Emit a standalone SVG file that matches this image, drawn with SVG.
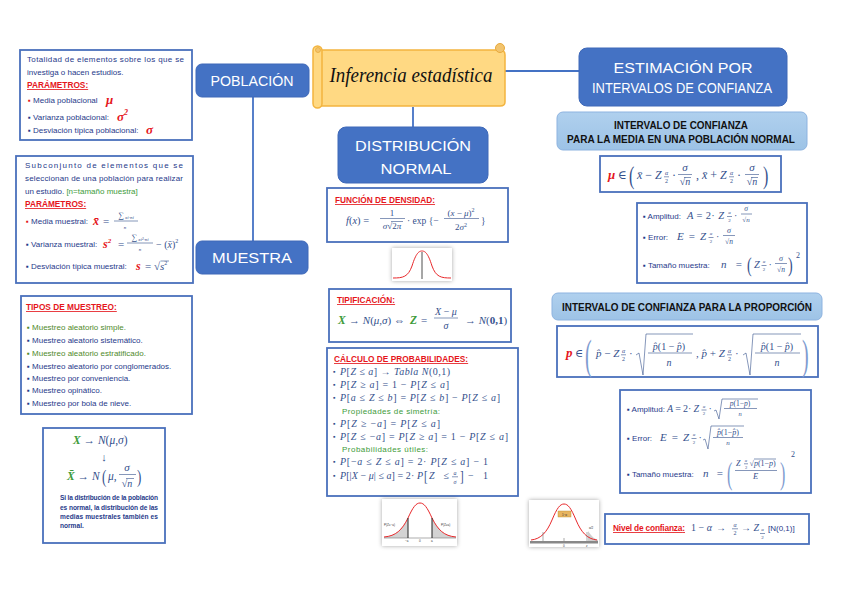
<svg xmlns="http://www.w3.org/2000/svg" width="848" height="599" viewBox="0 0 848 599">
<defs>
<style>
.box{fill:#fff;stroke:#4A70BC;stroke-width:1.8}
.hb{fill:#4472C4;stroke:#3E68B8;stroke-width:1}
.ht{font-family:"Liberation Sans",Arial,sans-serif;fill:#fff;font-size:14px;text-anchor:middle}
.lb{fill:url(#lbg);stroke:#8DB3E0;stroke-width:1}
.lt{font-family:"Liberation Sans",Arial,sans-serif;font-weight:bold;fill:#111;font-size:10px;text-anchor:middle}
.tx{font-family:"Liberation Sans",Arial,sans-serif;font-size:8px;fill:#1F3A8A}
.rd{font-family:"Liberation Sans",Arial,sans-serif;font-size:8.3px;fill:#E5161C;font-weight:bold;text-decoration:underline}
.gr{fill:#3E9B3A}
.gn{fill:#4F8A2B}
.rb{fill:#E5161C}
.m{font-family:"Liberation Serif","DejaVu Serif",serif;font-style:italic;fill:#34508C}
.mu{font-style:normal}
.mr{font-family:"Liberation Serif","DejaVu Serif",serif;font-style:italic;font-weight:bold;fill:#E5161C}
.mg{font-family:"Liberation Serif","DejaVu Serif",serif;font-style:italic;font-weight:bold;fill:#3E9B3A}
.mc{text-anchor:middle}
.ln{stroke:#34508C;stroke-width:0.6;fill:none}
.con{stroke:#4472C4;stroke-width:1.8;fill:none}
.cur{fill:none;stroke:#E8282B;stroke-width:1}
.tiny{font-family:"Liberation Sans",Arial,sans-serif;font-size:3px;fill:#333}
</style>
<linearGradient id="lbg" x1="0" y1="0" x2="0" y2="1"><stop offset="0" stop-color="#B0D0EE"/><stop offset="1" stop-color="#9DC3E6"/></linearGradient>
<filter id="sh" x="-30%" y="-30%" width="160%" height="160%"><feDropShadow dx="0" dy="0" stdDeviation="2.2" flood-color="#000" flood-opacity="0.35"/></filter>
</defs>
<rect width="848" height="599" fill="#fff"/>

<g id="connectors">
<line class="con" x1="253" y1="97" x2="253" y2="241"/>
<line class="con" x1="413" y1="107" x2="413" y2="127"/>
<line class="con" x1="505" y1="71" x2="579" y2="71"/>
</g>

<g id="poblacion-def">
<rect class="box" x="20" y="50" width="172" height="90"/>
<text class="tx" x="27" y="62" textLength="157" lengthAdjust="spacing">Totalidad de elementos sobre los que se</text>
<text class="tx" x="27" y="75">investiga o hacen estudios.</text>
<text class="rd" x="27" y="88">PARÁMETROS:</text>
<text class="tx" x="28" y="103"><tspan class="rb">▪</tspan> Media poblacional</text>
<text class="mr" x="106" y="104" font-size="13">μ</text>
<text class="tx" x="28" y="120">▪ Varianza poblacional:</text>
<text class="mr" x="117" y="121" font-size="13">σ<tspan font-size="8" dy="-6">2</tspan></text>
<text class="tx" x="28" y="133">▪ Desviación típica poblacional:</text>
<text class="mr" x="146" y="134" font-size="13">σ</text>
</g>

<g id="muestra-def">
<rect class="box" x="16" y="156" width="177" height="127"/>
<text class="tx" x="25" y="168" textLength="158" lengthAdjust="spacing">Subconjunto de elementos que se</text>
<text class="tx" x="25" y="181" textLength="158" lengthAdjust="spacing">seleccionan de una población para realizar</text>
<text class="tx" x="25" y="194">un estudio. <tspan class="gr">[n=tamaño muestra]</tspan></text>
<text class="rd" x="25" y="207">PARÁMETROS:</text>
<text class="tx" x="26" y="224"><tspan class="rb">▪</tspan> Media muestral:</text>
<text class="mr" x="93" y="225" font-size="12">x̄</text>
<text class="m" x="103" y="225" font-size="11"><tspan class="mu">=</tspan></text>
<text class="m mc" font-size="8"><tspan x="126" y="218"><tspan class="mu">∑</tspan><tspan font-size="5" dy="1"> xi·ni</tspan></tspan><tspan x="125" y="229" font-size="5">n</tspan></text>
<line class="ln" x1="114" y1="221" x2="138" y2="221" stroke-width="0.4"/>
<text class="tx" x="26" y="247">▪ Varianza muestral:</text>
<text class="mr" x="103" y="248" font-size="12">s<tspan font-size="7" dy="-5">2</tspan></text>
<text class="m" x="118" y="248" font-size="11"><tspan class="mu">=</tspan></text>
<text class="m mc" font-size="8"><tspan x="140" y="240"><tspan class="mu">∑</tspan><tspan font-size="5" dy="1"> xi²·ni</tspan></tspan><tspan x="140" y="251" font-size="5">n</tspan></text>
<line class="ln" x1="127" y1="243" x2="153" y2="243" stroke-width="0.4"/>
<text class="m" x="156" y="248" font-size="10"><tspan class="mu">− (</tspan>x̄<tspan class="mu">)</tspan><tspan font-size="6" dy="-5" class="mu">2</tspan></text>
<text class="tx" x="26" y="269">▪  Desviación típica muestral:</text>
<text class="mr" x="136" y="270" font-size="12">s</text>
<text class="m" x="145" y="270" font-size="11"><tspan class="mu">=</tspan> <tspan class="mu">√</tspan>s<tspan font-size="6" dy="-5" class="mu">2</tspan></text>
<line class="ln" x1="160.5" y1="261" x2="169" y2="261"/>
</g>

<g id="tipos-muestreo">
<rect class="box" x="21" y="296" width="171" height="118"/>
<text class="rd" x="26" y="310">TIPOS DE MUESTREO:</text>
<text class="tx gn" x="27" y="330">▪  Muestreo aleatorio simple.</text>
<text class="tx" x="27" y="343">▪ Muestreo aleatorio sistemático.</text>
<text class="tx gn" x="27" y="356">▪  Muestreo aleatorio estratificado.</text>
<text class="tx" x="27" y="369">▪ Muestreo aleatorio por conglomerados.</text>
<text class="tx" x="27" y="381">▪ Muestreo por conveniencia.</text>
<text class="tx" x="27" y="393">▪ Muestreo opinático.</text>
<text class="tx" x="27" y="406">▪ Muestreo por bola de nieve.</text>
</g>

<g id="distribucion-media">
<rect class="box" x="43" y="428" width="122" height="115"/>
<text class="m" x="73" y="444" font-size="11.5"><tspan class="mg">X</tspan> → <tspan>N</tspan><tspan class="mu">(</tspan>μ<tspan class="mu">,</tspan>σ<tspan class="mu">)</tspan></text>
<text class="m mc" x="104" y="461" font-size="11"><tspan class="mu">↓</tspan></text>
<text class="m" x="67" y="480" font-size="11.5"><tspan class="mg">X̄</tspan> → N</text>
<text class="m" transform="translate(102,483) scale(1,1.5)" font-size="13"><tspan class="mu">(</tspan></text>
<text class="m" x="108" y="480" font-size="11.5">μ<tspan class="mu">,</tspan></text>
<text class="m mc" font-size="11"><tspan x="127" y="471">σ</tspan><tspan x="127" y="487" font-size="10"><tspan class="mu">√</tspan>n</tspan></text>
<line class="ln" x1="119" y1="474.5" x2="136" y2="474.5"/>
<line class="ln" x1="126" y1="478.5" x2="134" y2="478.5"/>
<text class="m" transform="translate(137,483) scale(1,1.5)" font-size="13"><tspan class="mu">)</tspan></text>
<g font-family="Liberation Sans, Arial, sans-serif" font-size="6.6" font-weight="bold" fill="#1F3A8A">
<text x="60" y="500" textLength="98" lengthAdjust="spacing">Si la distribución de la población</text>
<text x="60" y="510" textLength="98" lengthAdjust="spacing">es normal, la distribución de las</text>
<text x="60" y="519" textLength="98" lengthAdjust="spacing">medias muestrales también es</text>
<text x="60" y="528">normal.</text>
</g>
</g>

<g id="poblacion">
<rect class="hb" x="196" y="64" width="113" height="33" rx="6"/>
<text class="ht" x="252" y="86" textLength="83" lengthAdjust="spacingAndGlyphs">POBLACIÓN</text>
</g>

<g id="muestra">
<rect class="hb" x="196" y="241" width="112" height="33" rx="6"/>
<text class="ht" x="252" y="263" textLength="80" lengthAdjust="spacingAndGlyphs">MUESTRA</text>
</g>

<g id="titulo">
<path d="M320,50 L500,50 Q505,50 505,55 L505,102 Q505,106 500,106 L320,106 Z" fill="#FFD983" stroke="#F3B43F" stroke-width="1.5"/>
<rect x="313" y="46" width="9" height="62" rx="4.5" fill="#FFD983" stroke="#F3B43F" stroke-width="1.5"/>
<circle cx="318" cy="50" r="2.5" fill="#F2C46E" stroke="#E8A93A" stroke-width="0.8"/>
<circle cx="500" cy="48" r="4.5" fill="#F2C46E" stroke="#E8A93A" stroke-width="1"/>
<text x="411" y="82" font-family="Liberation Serif, serif" font-style="italic" font-size="22" fill="#111" text-anchor="middle" textLength="163" lengthAdjust="spacingAndGlyphs">Inferencia estadística</text>
</g>

<g id="distribucion-normal">
<rect class="hb" x="338" y="127" width="150" height="56" rx="8"/>
<text class="ht" x="413" y="151" textLength="116" lengthAdjust="spacingAndGlyphs">DISTRIBUCIÓN</text>
<text class="ht" x="416" y="174" textLength="71" lengthAdjust="spacingAndGlyphs">NORMAL</text>
</g>

<g id="funcion-densidad">
<rect class="box" x="327" y="188" width="181" height="54"/>
<text class="rd" x="335" y="203">FUNCIÓN DE DENSIDAD:</text>
<text class="m" x="346" y="224" font-size="10.5">f<tspan class="mu">(</tspan>x<tspan class="mu">) =</tspan></text>
<text class="m mc" font-size="9"><tspan x="392" y="215.5" class="mu">1</tspan><tspan x="392" y="229">σ<tspan class="mu">√2</tspan>π</tspan></text>
<line class="ln" x1="380" y1="218.5" x2="405" y2="218.5"/>
<line class="ln" x1="391" y1="221.5" x2="403" y2="221.5"/>
<text class="m" x="407" y="224" font-size="9.5"><tspan class="mu">· exp {−</tspan></text>
<text class="m mc" font-size="9"><tspan x="461" y="215.5"><tspan class="mu">(</tspan>x <tspan class="mu">−</tspan> μ<tspan class="mu">)</tspan><tspan class="mu" font-size="6" dy="-4">2</tspan></tspan><tspan x="461" y="229.5"><tspan class="mu">2</tspan>σ<tspan class="mu" font-size="6" dy="-3">2</tspan></tspan></text>
<line class="ln" x1="444" y1="218.5" x2="479" y2="218.5"/>
<text class="m" x="481" y="224" font-size="9.5"><tspan class="mu">}</tspan></text>
</g>

<g id="curva-normal">
<rect x="392" y="248" width="60" height="33" fill="#fff" filter="url(#sh)"/>
<path class="cur" d="M393,278 C403,278 408,277 412,266 C416,253 419,251 422,251 C425,251 428,253 432,266 C436,277 441,278 451,278"/>
<line x1="422" y1="252" x2="422" y2="279" stroke="#222" stroke-width="0.8"/>
</g>

<g id="tipificacion">
<rect class="box" x="329" y="289" width="182" height="53"/>
<text class="rd" x="337" y="303">TIPIFICACIÓN:</text>
<text class="mg" x="338" y="324" font-size="11.5">X</text>
<text class="m" x="349" y="324" font-size="11" textLength="56">→ N<tspan class="mu">(</tspan>μ<tspan class="mu">,</tspan>σ<tspan class="mu">)</tspan> <tspan class="mu">⇔</tspan></text>
<text class="mg" x="410" y="324" font-size="11.5">Z</text>
<text class="m" x="421" y="324" font-size="11"><tspan class="mu">=</tspan></text>
<text class="m mc" font-size="10"><tspan x="446" y="314.5">X <tspan class="mu">−</tspan> μ</tspan><tspan x="446" y="329">σ</tspan></text>
<line class="ln" x1="434" y1="318" x2="458" y2="318"/>
<text class="m" x="465" y="324" font-size="11"><tspan class="mu">→</tspan> N<tspan class="mu">(</tspan><tspan class="mu" font-weight="bold">0,1</tspan><tspan class="mu">)</tspan></text>
</g>

<g id="calculo-probabilidades">
<rect class="box" x="327" y="348" width="191" height="148"/>
<text class="rd" x="334" y="362">CÁLCULO DE PROBABILIDADES:</text>
<g class="m" font-size="7" fill="#34508C">
<text x="333" y="374">▪</text><text x="333" y="387">▪</text><text x="333" y="400">▪</text>
<text x="333" y="426">▪</text><text x="333" y="439">▪</text><text x="333" y="464">▪</text><text x="333" y="478">▪</text>
</g>
<text class="m" x="340" y="375" font-size="10" textLength="110">P<tspan class="mu">[</tspan>Z <tspan class="mu">≤</tspan> a<tspan class="mu">] →</tspan> Tabla N<tspan class="mu">(0,1)</tspan></text>
<text class="m" x="340" y="388" font-size="10" textLength="109">P<tspan class="mu">[</tspan>Z <tspan class="mu">≥</tspan> a<tspan class="mu">] = 1 −</tspan> P<tspan class="mu">[</tspan>Z <tspan class="mu">≤</tspan> a<tspan class="mu">]</tspan></text>
<text class="m" x="340" y="401" font-size="10" textLength="160">P<tspan class="mu">[</tspan>a <tspan class="mu">≤</tspan> Z <tspan class="mu">≤</tspan> b<tspan class="mu">] =</tspan> P<tspan class="mu">[</tspan>Z <tspan class="mu">≤</tspan> b<tspan class="mu">] −</tspan> P<tspan class="mu">[</tspan>Z <tspan class="mu">≤</tspan> a<tspan class="mu">]</tspan></text>
<text class="tx gr" x="342" y="414" textLength="98">Propiedades de simetría:</text>
<text class="m" x="340" y="427" font-size="10" textLength="100">P<tspan class="mu">[</tspan>Z <tspan class="mu">≥ −</tspan>a<tspan class="mu">] =</tspan> P<tspan class="mu">[</tspan>Z <tspan class="mu">≤</tspan> a<tspan class="mu">]</tspan></text>
<text class="m" x="340" y="440" font-size="10" textLength="168">P<tspan class="mu">[</tspan>Z <tspan class="mu">≤ −</tspan>a<tspan class="mu">] =</tspan> P<tspan class="mu">[</tspan>Z <tspan class="mu">≥</tspan> a<tspan class="mu">] = 1 −</tspan> P<tspan class="mu">[</tspan>Z <tspan class="mu">≤</tspan> a<tspan class="mu">]</tspan></text>
<text class="tx gr" x="342" y="452" textLength="86">Probabilidades útiles:</text>
<text class="m" x="340" y="465" font-size="10" textLength="148">P<tspan class="mu">[−</tspan>a <tspan class="mu">≤</tspan> Z <tspan class="mu">≤</tspan> a<tspan class="mu">] = 2·</tspan> P<tspan class="mu">[</tspan>Z <tspan class="mu">≤</tspan> a<tspan class="mu">] − 1</tspan></text>
<text class="m" x="340" y="479" font-size="10" textLength="83">P<tspan class="mu">[|</tspan>X <tspan class="mu">−</tspan> μ<tspan class="mu">| ≤</tspan> a<tspan class="mu">] = 2·</tspan> P</text>
<text class="m" transform="translate(424,481) scale(1,1.35)" font-size="11"><tspan class="mu">[</tspan></text>
<text class="m" x="429" y="479" font-size="10" textLength="20">Z <tspan class="mu">≤</tspan></text>
<text class="m mc" font-size="6"><tspan x="455" y="474.8">a</tspan><tspan x="455" y="483.5">σ</tspan></text>
<line class="ln" x1="452" y1="476.8" x2="458" y2="476.8" stroke-width="0.4"/>
<text class="m" transform="translate(460,481) scale(1,1.35)" font-size="11"><tspan class="mu">]</tspan></text>
<text class="m" x="468" y="479" font-size="10" textLength="20"><tspan class="mu">− 1</tspan></text>
</g>

<g id="curva-cola">
<rect x="382" y="499" width="75" height="47" fill="#fff" filter="url(#sh)"/>
<path d="M384,538 L384,537 C396,536 402,530 408,518 L408,538 Z" fill="#D3D3D3"/>
<path d="M432,518 C438,530 444,536 456,537 L456,538 L432,538 Z" fill="#D3D3D3"/>
<line x1="384" y1="538" x2="456" y2="538" stroke="#777" stroke-width="0.6"/>
<path class="cur" d="M384,537 C396,536 402,530 408,518 C413,507 416,503 420,503 C424,503 427,507 432,518 C438,530 444,536 456,537"/>
<line x1="408" y1="518" x2="408" y2="538" stroke="#222" stroke-width="1"/>
<line x1="432" y1="518" x2="432" y2="538" stroke="#222" stroke-width="1"/>
<text class="tiny" x="384" y="526">P(Z≤−a)</text>
<text class="tiny" x="441" y="526">P(Z≥a)</text>
<text class="tiny" x="405" y="542">−a</text>
<text class="tiny" x="419" y="542">0</text>
<text class="tiny" x="431" y="542">a</text>
</g>

<g id="curva-intervalo">
<rect x="529" y="500" width="70" height="47" fill="#fff" filter="url(#sh)"/>
<path d="M588,531 C592,537 595,539 598,540 L598,541 L588,541 Z" fill="#CFCFCF"/>
<rect x="530" y="541" width="68" height="2.5" fill="#888"/>
<path class="cur" d="M531,540 C541,539 547,532 552,520 C557,508 560,504 564,504 C568,504 571,508 576,520 C581,532 587,539 597,540"/>
<line x1="543" y1="532" x2="543" y2="541" stroke="#555" stroke-width="0.5"/>
<line x1="587" y1="532" x2="587" y2="541" stroke="#555" stroke-width="0.5"/>
<line x1="564" y1="538" x2="564" y2="541" stroke="#555" stroke-width="0.5"/>
<rect x="558" y="511" width="13" height="6" fill="#E8B560" stroke="#B98A30" stroke-width="0.4"/>
<text class="tiny" x="564.5" y="515.5" text-anchor="middle">1−α</text>
<text class="tiny" x="589" y="529">α/2</text>
<text class="tiny" x="563" y="547">0</text>
<text class="tiny" x="586" y="547">z</text>
</g>

<g id="estimacion">
<rect class="hb" x="579" y="48" width="208" height="58" rx="8"/>
<text class="ht" x="683" y="73" textLength="139" lengthAdjust="spacingAndGlyphs">ESTIMACIÓN POR</text>
<text class="ht" x="682" y="93" textLength="180" lengthAdjust="spacingAndGlyphs">INTERVALOS DE CONFIANZA</text>
</g>

<g id="intervalo-media">
<rect class="lb" x="557" y="112" width="250" height="38" rx="6"/>
<text class="lt" x="681" y="129" textLength="134" lengthAdjust="spacingAndGlyphs">INTERVALO DE CONFIANZA</text>
<text class="lt" x="681" y="143" textLength="228" lengthAdjust="spacingAndGlyphs">PARA LA MEDIA EN UNA POBLACIÓN NORMAL</text>
</g>

<g id="formula-media">
<rect class="box" x="600" y="156" width="181" height="36"/>
<text class="mr" x="608" y="179" font-size="13">μ</text>
<text class="m" x="618" y="179" font-size="12"><tspan class="mu">∈</tspan></text>
<text class="m" transform="translate(629,184) scale(1,1.6)" font-size="16"><tspan class="mu">(</tspan></text>
<text class="m" x="637" y="179" font-size="12">x̄ <tspan class="mu">−</tspan> Z</text>
<text class="m mc" font-size="6"><tspan x="666.5" y="174.7">α</tspan><tspan x="666.5" y="183" class="mu">2</tspan></text>
<line class="ln" x1="664" y1="176.8" x2="669" y2="176.8" stroke-width="0.4"/>
<text class="m" x="672" y="179" font-size="12"><tspan class="mu">·</tspan></text>
<text class="m mc" font-size="11"><tspan x="685" y="171">σ</tspan><tspan x="685" y="185" font-size="10"><tspan class="mu">√</tspan>n</tspan></text>
<line class="ln" x1="678" y1="174.5" x2="692" y2="174.5"/>
<line class="ln" x1="684" y1="177.5" x2="691" y2="177.5"/>
<text class="m" x="696" y="179" font-size="12"><tspan class="mu">,</tspan> x̄ <tspan class="mu">+</tspan> Z</text>
<text class="m mc" font-size="6"><tspan x="731.5" y="174.7">α</tspan><tspan x="731.5" y="183" class="mu">2</tspan></text>
<line class="ln" x1="729" y1="176.8" x2="734" y2="176.8" stroke-width="0.4"/>
<text class="m" x="737" y="179" font-size="12"><tspan class="mu">·</tspan></text>
<text class="m mc" font-size="11"><tspan x="752" y="171">σ</tspan><tspan x="752" y="185" font-size="10"><tspan class="mu">√</tspan>n</tspan></text>
<line class="ln" x1="745" y1="174.5" x2="759" y2="174.5"/>
<line class="ln" x1="751" y1="177.5" x2="758" y2="177.5"/>
<text class="m" transform="translate(763,184) scale(1,1.6)" font-size="16"><tspan class="mu">)</tspan></text>
</g>

<g id="errores-media">
<rect class="box" x="637" y="203" width="170" height="80"/>
<text class="tx" x="643" y="219">▪ Amplitud:</text>
<text class="m" x="687" y="219" font-size="10.5" textLength="37">A <tspan class="mu">= 2·</tspan> Z</text>
<text class="m mc" font-size="5"><tspan x="729.5" y="214.3">α</tspan><tspan x="729.5" y="221.5" class="mu">2</tspan></text>
<line class="ln" x1="727" y1="216.5" x2="732" y2="216.5" stroke-width="0.4"/>
<text class="m" x="734" y="219" font-size="10"><tspan class="mu">·</tspan></text>
<text class="m mc" font-size="7.5"><tspan x="746" y="211.3">σ</tspan><tspan x="746" y="221.5" font-size="7"><tspan class="mu">√</tspan>n</tspan></text>
<line class="ln" x1="741" y1="214" x2="752" y2="214" stroke-width="0.4"/>
<text class="tx" x="643" y="240">▪ Error:</text>
<text class="m" x="677" y="240" font-size="11" textLength="29">E <tspan class="mu">=</tspan> Z</text>
<text class="m mc" font-size="5"><tspan x="711" y="235.3">α</tspan><tspan x="711" y="242.5" class="mu">2</tspan></text>
<line class="ln" x1="708.5" y1="237.5" x2="713.5" y2="237.5" stroke-width="0.4"/>
<text class="m" x="716" y="240" font-size="10"><tspan class="mu">·</tspan></text>
<text class="m mc" font-size="8"><tspan x="729" y="232.8">σ</tspan><tspan x="729" y="244" font-size="7.5"><tspan class="mu">√</tspan>n</tspan></text>
<line class="ln" x1="723" y1="235.5" x2="735" y2="235.5" stroke-width="0.4"/>
<text class="tx" x="643" y="268">▪ Tamaño muestra:</text>
<text class="m" x="721" y="268" font-size="11" textLength="21">n <tspan class="mu">=</tspan></text>
<text class="m" transform="translate(747,272) scale(1,1.5)" font-size="14"><tspan class="mu">(</tspan></text>
<text class="m" x="754" y="268" font-size="10.5">Z</text>
<text class="m mc" font-size="5"><tspan x="764" y="263.3">α</tspan><tspan x="764" y="270.5" class="mu">2</tspan></text>
<line class="ln" x1="761.5" y1="265.5" x2="766.5" y2="265.5" stroke-width="0.4"/>
<text class="m" x="768.5" y="268" font-size="10"><tspan class="mu">·</tspan></text>
<text class="m mc" font-size="8"><tspan x="781" y="260.8">σ</tspan><tspan x="781" y="272" font-size="7.5"><tspan class="mu">√</tspan>n</tspan></text>
<line class="ln" x1="775" y1="263.5" x2="787" y2="263.5" stroke-width="0.4"/>
<text class="m" transform="translate(788,272) scale(1,1.5)" font-size="14"><tspan class="mu">)</tspan></text>
<text class="m" x="796" y="258" font-size="8"><tspan class="mu">2</tspan></text>
</g>

<g id="intervalo-proporcion">
<rect class="lb" x="552" y="293" width="270" height="27" rx="6"/>
<text class="lt" x="687" y="311" textLength="250" lengthAdjust="spacingAndGlyphs">INTERVALO DE CONFIANZA PARA LA PROPORCIÓN</text>
</g>

<g id="formula-proporcion">
<rect class="box" x="557" y="326" width="261" height="51"/>
<text class="mr" x="566" y="357" font-size="13">p</text>
<text class="m" x="575" y="357" font-size="11"><tspan class="mu">∈</tspan></text>
<text class="m" transform="translate(585,369) scale(1,2.1)" font-size="20" style="fill:#7F9CD0"><tspan class="mu">(</tspan></text>
<text class="m" x="596" y="357" font-size="11">p̂ <tspan class="mu">−</tspan> Z</text>
<text class="m mc" font-size="6"><tspan x="623.5" y="352.7">α</tspan><tspan x="623.5" y="361" class="mu">2</tspan></text>
<line class="ln" x1="621" y1="354.8" x2="626" y2="354.8" stroke-width="0.4"/>
<text class="m" x="629" y="357" font-size="11"><tspan class="mu">·</tspan></text>
<path class="ln" d="M636,355 L639,353 L643,375 L646,334 L693,334" stroke-width="0.8"/>
<text class="m mc" font-size="10"><tspan x="669" y="349.5">p̂<tspan class="mu">(1 −</tspan> p̂<tspan class="mu">)</tspan></tspan><tspan x="669" y="366">n</tspan></text>
<line class="ln" x1="648" y1="353" x2="692" y2="353"/>
<text class="m" x="696" y="357" font-size="11"><tspan class="mu">,</tspan> p̂ <tspan class="mu">+</tspan> Z</text>
<text class="m mc" font-size="6"><tspan x="729.5" y="352.7">α</tspan><tspan x="729.5" y="361" class="mu">2</tspan></text>
<line class="ln" x1="727" y1="354.8" x2="732" y2="354.8" stroke-width="0.4"/>
<text class="m" x="735" y="357" font-size="11"><tspan class="mu">·</tspan></text>
<path class="ln" d="M743,355 L746,353 L750,375 L753,334 L801,334" stroke-width="0.8"/>
<text class="m mc" font-size="10"><tspan x="777" y="349.5">p̂<tspan class="mu">(1 −</tspan> p̂<tspan class="mu">)</tspan></tspan><tspan x="777" y="366">n</tspan></text>
<line class="ln" x1="755" y1="353" x2="800" y2="353"/>
<text class="m" transform="translate(802,369) scale(1,2.1)" font-size="20" style="fill:#7F9CD0"><tspan class="mu">)</tspan></text>
</g>

<g id="errores-proporcion">
<rect class="box" x="620" y="390" width="191" height="103"/>
<text class="tx" x="627" y="412">▪ Amplitud:</text>
<text class="m" x="667" y="412" font-size="10" textLength="32">A <tspan class="mu">= 2·</tspan> Z</text>
<text class="m mc" font-size="5"><tspan x="704" y="407.8">α</tspan><tspan x="704" y="415" class="mu">2</tspan></text>
<line class="ln" x1="701.5" y1="410" x2="706.5" y2="410" stroke-width="0.4"/>
<text class="m" x="708.5" y="412" font-size="10"><tspan class="mu">·</tspan></text>
<path class="ln" d="M714,411 L716,410 L719,419 L722,399 L758,399" stroke-width="0.6"/>
<text class="m mc" font-size="7.5"><tspan x="740" y="406">p<tspan class="mu">(1−</tspan>p<tspan class="mu">)</tspan></tspan><tspan x="740" y="415.5" font-size="6.5">n</tspan></text>
<line class="ln" x1="724" y1="408.5" x2="757" y2="408.5" stroke-width="0.4"/>
<text class="tx" x="627" y="441">▪ Error:</text>
<text class="m" x="660" y="441" font-size="11" textLength="29">E <tspan class="mu">=</tspan> Z</text>
<text class="m mc" font-size="5"><tspan x="694" y="436.3">α</tspan><tspan x="694" y="443.5" class="mu">2</tspan></text>
<line class="ln" x1="691.5" y1="438.5" x2="696.5" y2="438.5" stroke-width="0.4"/>
<text class="m" x="698.5" y="441" font-size="10"><tspan class="mu">·</tspan></text>
<path class="ln" d="M703,440 L705,439 L708,449 L711,426 L744,426" stroke-width="0.6"/>
<text class="m mc" font-size="8"><tspan x="728" y="434.8">p̂<tspan class="mu">(1−</tspan>p̂<tspan class="mu">)</tspan></tspan><tspan x="728" y="445" font-size="7">n</tspan></text>
<line class="ln" x1="713" y1="437.5" x2="743" y2="437.5" stroke-width="0.4"/>
<text class="tx" x="627" y="477">▪ Tamaño muestra:</text>
<text class="m" x="703" y="477" font-size="11" textLength="20">n <tspan class="mu">=</tspan></text>
<text class="m" transform="translate(727,484) scale(1,2)" font-size="16" style="fill:#7F9CD0"><tspan class="mu">(</tspan></text>
<text class="m" font-size="8"><tspan x="736" y="466">Z</tspan><tspan x="744.8" y="462.3" font-size="4.5">α</tspan><tspan x="744.9" y="468.8" font-size="4.5" class="mu">2</tspan><tspan x="749.5" y="466"><tspan class="mu">√</tspan>p<tspan class="mu">(1−</tspan>p<tspan class="mu">)</tspan></tspan><tspan x="753" y="479" font-size="8.5">E</tspan></text>
<line class="ln" x1="744" y1="463.8" x2="748" y2="463.8" stroke-width="0.3"/>
<line class="ln" x1="754" y1="459" x2="776" y2="459" stroke-width="0.4"/>
<line class="ln" x1="735" y1="470.5" x2="777" y2="470.5"/>
<text class="m" transform="translate(780,484) scale(1,2)" font-size="16" style="fill:#7F9CD0"><tspan class="mu">)</tspan></text>
<text class="m" x="791" y="457" font-size="8"><tspan class="mu">2</tspan></text>
</g>

<g id="nivel-confianza">
<rect class="box" x="605" y="514" width="204" height="30"/>
<text class="rd" x="613" y="531" textLength="72">Nivel de confianza:</text>
<text class="m" x="691" y="531" font-size="10"><tspan class="mu">1 −</tspan> α</text>
<text class="m" x="716" y="531" font-size="10"><tspan class="mu">→</tspan></text>
<text class="m mc" font-size="6"><tspan x="735" y="526.7">α</tspan><tspan x="735" y="535" class="mu">2</tspan></text>
<line class="ln" x1="732" y1="528.8" x2="738" y2="528.8" stroke-width="0.4"/>
<text class="m" x="741" y="531" font-size="10"><tspan class="mu">→</tspan> Z</text>
<text class="m mc" font-size="5"><tspan x="762.5" y="531.3">α</tspan><tspan x="762.5" y="538.5" class="mu">2</tspan></text>
<line class="ln" x1="760" y1="533.5" x2="765" y2="533.5" stroke-width="0.4"/>
<text class="tx" x="768" y="531">[N(0,1)]</text>
</g>
</svg>
